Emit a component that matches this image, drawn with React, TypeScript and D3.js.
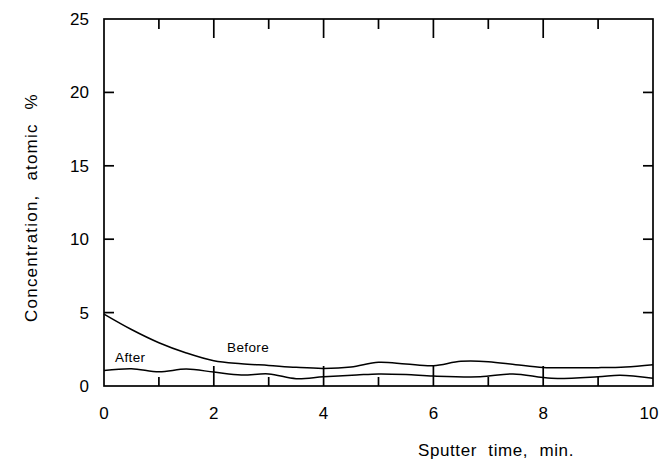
import * as d3 from "d3";

// sputter time, min.
const beforeTime = [0, 0.5, 1, 1.5, 2, 2.5, 3, 3.5, 4, 4.5, 5, 5.5, 6, 6.5, 7, 7.5, 8, 8.5, 9, 9.5, 10];
const beforeConc = [4.9, 3.85, 2.95, 2.25, 1.72, 1.52, 1.4, 1.27, 1.2, 1.3, 1.62, 1.5, 1.38, 1.68, 1.66, 1.45, 1.26, 1.24, 1.25, 1.3, 1.45];

const afterTime = [0, 0.5, 1, 1.5, 2, 2.5, 3, 3.5, 4, 4.6, 5, 5.5, 6, 6.85, 7.45, 8.15, 9, 9.4, 10];
const afterConc = [1.05, 1.18, 0.97, 1.15, 0.95, 0.75, 0.82, 0.5, 0.63, 0.75, 0.82, 0.78, 0.68, 0.63, 0.82, 0.52, 0.63, 0.74, 0.52];

const xTicks = [0, 2, 4, 6, 8, 10];
const xMinor = [1, 3, 5, 7, 9];
const yTicks = [0, 5, 10, 15, 20, 25];

const W = 659, H = 466;
const margin = { top: 19, right: 6, bottom: 80, left: 104 };

const App = () => {
  const x = d3.scaleLinear().domain([0, 10]).range([margin.left, W - margin.right]);
  const y = d3.scaleLinear().domain([0, 25]).range([H - margin.bottom, margin.top]);

  const line = d3
    .line<[number, number]>()
    .x((d) => x(d[0]))
    .y((d) => y(d[1]))
    .curve(d3.curveCatmullRom.alpha(0.5));

  const before = line(beforeTime.map((t, i) => [t, beforeConc[i]]));
  const after = line(afterTime.map((t, i) => [t, afterConc[i]]));

  const x0 = x(0), x1 = x(10), y0 = y(0), y1 = y(25);
  const font = "'Liberation Sans', Arial, sans-serif";

  return (
    <svg width={W} height={H} style={{ position: "absolute", left: 0, top: 0, background: "#fff" }}>
      <g stroke="#000" fill="none" strokeWidth={1.7}>
        <rect x={x0} y={y1} width={x1 - x0} height={y0 - y1} />
        {/* major ticks on bottom and top */}
        {xTicks.slice(1, -1).map((t) => (
          <g key={"xm" + t}>
            <line x1={x(t)} x2={x(t)} y1={y0} y2={y0 - 20} />
            <line x1={x(t)} x2={x(t)} y1={y1} y2={y1 + 19} />
          </g>
        ))}
        {xMinor.map((t) => (
          <g key={"xn" + t}>
            <line x1={x(t)} x2={x(t)} y1={y0} y2={y0 - 9} />
            <line x1={x(t)} x2={x(t)} y1={y1} y2={y1 + 10} />
          </g>
        ))}
        {yTicks.slice(1, -1).map((v) => (
          <g key={"y" + v}>
            <line x1={x0} x2={x0 + 10} y1={y(v)} y2={y(v)} />
            <line x1={x1} x2={x1 - 10} y1={y(v)} y2={y(v)} />
          </g>
        ))}
      </g>

      <path d={before ?? ""} fill="none" stroke="#000" strokeWidth={1.5} />
      <path d={after ?? ""} fill="none" stroke="#000" strokeWidth={1.5} />

      <g fontFamily={font} fontSize={17} fill="#000">
        {yTicks.map((v) => (
          <text key={"yl" + v} x={x0 - 15} y={y(v)} dy="0.35em" textAnchor="end">
            {v}
          </text>
        ))}
        {xTicks.map((t) => (
          <text key={"xl" + t} x={x(t) - (t === 10 ? 4 : 0)} y={y0 + 27} dy="0.35em" textAnchor="middle">
            {t}
          </text>
        ))}
      </g>

      <g fontFamily={font} fontSize={13.5} fill="#000" letterSpacing={0.4}>
        <text x={115} y={362}>After</text>
        <text x={227} y={352}>Before</text>
      </g>

      <g fontFamily={font} fontSize={17} fill="#000" letterSpacing={0.6} style={{ wordSpacing: "6px" }}>
        <text x={496} y={456} textAnchor="middle">
          Sputter time, min.
        </text>
        <text
          transform={`translate(37, ${(y0 + y1) / 2 + 5}) rotate(-90)`}
          textAnchor="middle"
          letterSpacing={1.2}
          style={{ wordSpacing: "8px" }}
        >
          Concentration, atomic %
        </text>
      </g>
    </svg>
  );
};

export default App;
